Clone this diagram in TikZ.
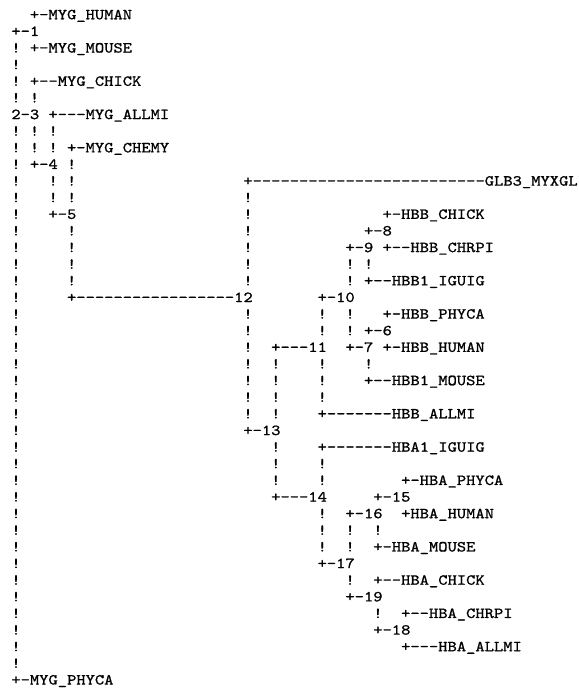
\documentclass[tikz,border=0pt]{standalone}
\usepackage{fontspec}
\setmonofont{lmmono10-regular}[Extension=.otf, FakeStretch=1.156, FakeBold=1]

\tikzset{
  ascii/.style={font=\ttfamily\fontsize{15.3}{16.63}\selectfont, anchor=base west, inner sep=0pt, outer sep=0pt, text=black}
}

\begin{document}
\begin{tikzpicture}[x=9.28pt, y=-16.63pt, every node/.style={ascii}]

    \useasboundingbox (-11.36pt,19.3pt) rectangle (566.64pt,-673.7pt);

    % vertical bars: column/first row/last row
    \foreach \c/\a/\b in {0/2/5, 0/7/39, 2/5/5, 2/7/8, 4/7/8, 4/10/11, 6/9/11, 6/13/16,
                          25/11/16, 25/18/24, 28/21/24, 28/26/28,
                          33/18/19, 33/21/23, 33/27/28, 33/30/32,
                          36/15/16, 36/18/19, 36/31/32, 36/34/34,
                          38/15/15, 38/21/21, 39/31/31, 39/36/36}
        \foreach \r in {\a,...,\b} \node (bar\c-\r) at (\c,\r) {!};

    % myoglobins
    \node (myghuman) at (2,0) {+-MYG\_HUMAN};
    \node (n1) at (0,1) {+-1};
    \node (mygmouse) at (2,2) {+-MYG\_MOUSE};
    \node (mygchick) at (2,4) {+--MYG\_CHICK};
    \node (n2) at (0,6) {2-3};
    \node (mygallmi) at (4,6) {+---MYG\_ALLMI};
    \node (mygchemy) at (6,8) {+-MYG\_CHEMY};
    \node (n4) at (2,9) {+-4};
    \node (n5) at (4,12) {+-5};
    \node (n12) at (6,17) {+-----------------12};
    \node (mygphyca) at (0,40) {+-MYG\_PHYCA};

    % globin III
    \node (glb3) at (25,10) {+-------------------------GLB3\_MYXGL};
    \node (n13) at (25,25) {+-13};

    % beta chains
    \node (hbbchick) at (40,12) {+-HBB\_CHICK};
    \node (n8) at (38,13) {+-8};
    \node (n9) at (36,14) {+-9};
    \node (hbbchrpi) at (40,14) {+--HBB\_CHRPI};
    \node (hbb1iguig) at (38,16) {+--HBB1\_IGUIG};
    \node (n10) at (33,17) {+-10};
    \node (hbbphyca) at (40,18) {+-HBB\_PHYCA};
    \node (n6) at (38,19) {+-6};
    \node (n11) at (28,20) {+---11};
    \node (n7) at (36,20) {+-7};
    \node (hbbhuman) at (40,20) {+-HBB\_HUMAN};
    \node (hbb1mouse) at (38,22) {+--HBB1\_MOUSE};
    \node (hbballmi) at (33,24) {+-------HBB\_ALLMI};

    % alpha chains
    \node (hba1iguig) at (33,26) {+-------HBA1\_IGUIG};
    \node (hbaphyca) at (42,28) {+-HBA\_PHYCA};
    \node (n14) at (28,29) {+---14};
    \node (n15) at (39,29) {+-15};
    \node (n16) at (36,30) {+-16};
    \node (hbahuman) at (42,30) {+HBA\_HUMAN};
    \node (hbamouse) at (39,32) {+-HBA\_MOUSE};
    \node (n17) at (33,33) {+-17};
    \node (hbachick) at (39,34) {+--HBA\_CHICK};
    \node (n19) at (36,35) {+-19};
    \node (hbachrpi) at (42,36) {+--HBA\_CHRPI};
    \node (n18) at (39,37) {+-18};
    \node (hbaallmi) at (42,38) {+---HBA\_ALLMI};

\end{tikzpicture}
\end{document}
